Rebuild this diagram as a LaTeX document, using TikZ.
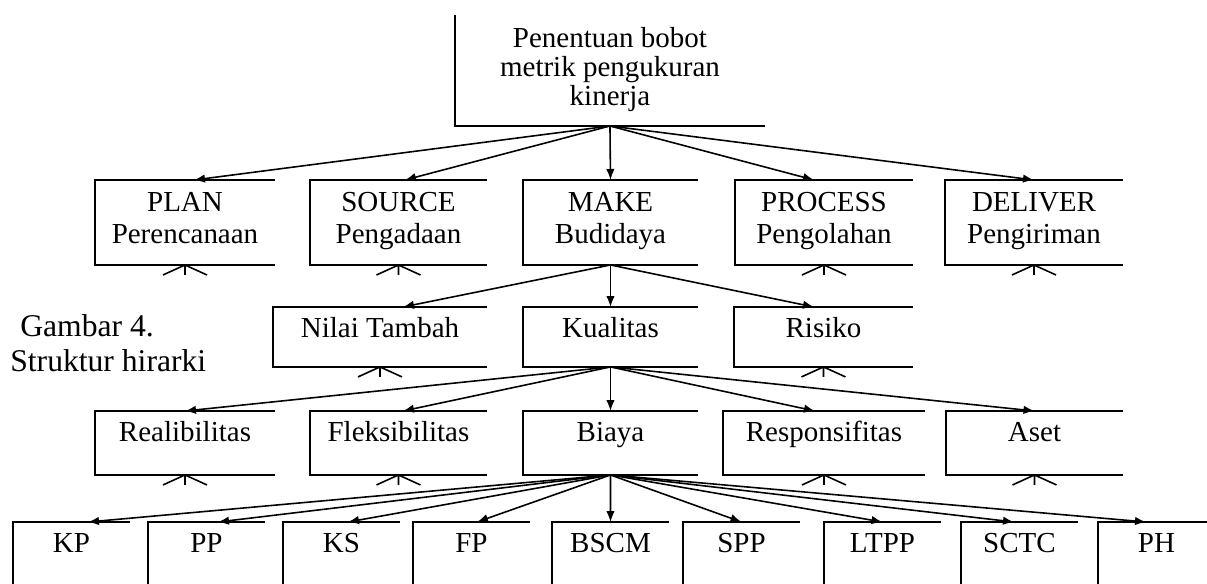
\documentclass[tikz,border=0pt]{standalone}
\usepackage{fontspec}
\setmainfont{Liberation Serif}
\usetikzlibrary{arrows.meta}

\tikzset{
  box/.style={anchor=north west, inner xsep=0pt, inner ysep=0pt, outer sep=0pt,
    align=center, font=\fontsize{16.5}{18.2}\selectfont},
  twoline/.style={minimum height=1.7cm, execute at end node=\strut},
  single/.style={text height=17.6pt, text depth=#1},
  frame/.style={line width=0.9pt},
  link/.style={line width=0.9pt, -{Latex[length=2.2mm,width=1.7mm]}},
  stub/.style={line width=0.9pt},
  caption/.style={anchor=north west, inner sep=0pt, align=left,
    font=\fontsize{18}{20}\selectfont}
}

\begin{document}
\begin{tikzpicture}[x=0.02cm, y=-0.02cm]
  \useasboundingbox (0,0) rectangle (1207,584);

  % goal
  \node[box, minimum width=6.2cm, minimum height=2.22cm, font=\fontsize{16.5}{16.5}\selectfont,
    execute at end node=\strut]
    (goal) at (455,15) {Penentuan bobot\\metrik pengukuran\\kinerja};

  % level 1
  \node[box, twoline, minimum width=3.6cm] (plan) at (95,180) {PLAN\\Perencanaan};
  \node[box, twoline, minimum width=3.54cm] (source) at (310,180) {SOURCE\\Pengadaan};
  \node[box, twoline, minimum width=3.5cm] (make) at (523,180) {MAKE\\Budidaya};
  \node[box, twoline, minimum width=3.56cm] (process) at (735,180) {PROCESS\\Pengolahan};
  \node[box, twoline, minimum width=3.56cm] (deliver) at (945,180) {DELIVER\\Pengiriman};

  % level 2
  \node[box, single=16.5pt, minimum width=4.28cm] (nilai) at (273,307) {Nilai Tambah};
  \node[box, single=16.5pt, minimum width=3.5cm] (kualitas) at (523,307) {Kualitas};
  \node[box, single=16.5pt, minimum width=3.58cm] (risiko) at (734,307) {Risiko};

  % level 3
  \node[box, single=18.8pt, minimum width=3.6cm] (reliab) at (95,411) {Realibilitas};
  \node[box, single=18.8pt, minimum width=3.54cm] (fleks) at (310,411) {Fleksibilitas};
  \node[box, single=18.8pt, minimum width=3.5cm] (biaya) at (523,411) {Biaya};
  \node[box, single=18.8pt, minimum width=4.04cm] (respons) at (723,411) {Responsifitas};
  \node[box, single=18.8pt, minimum width=3.54cm] (aset) at (946,411) {Aset};

  % level 4
  \node[box, single=10pt, minimum width=2.34cm] (kp) at (13,522) {KP};
  \node[box, single=10pt, minimum width=2.34cm] (pp) at (148,522) {PP};
  \node[box, single=10pt, minimum width=2.34cm] (ks) at (283,522) {KS};
  \node[box, single=10pt, minimum width=2.34cm] (fp) at (413,522) {FP};
  \node[box, single=10pt, minimum width=2.34cm] (bscm) at (552,522) {BSCM};
  \node[box, single=10pt, minimum width=2.34cm] (spp) at (683,522) {SPP};
  \node[box, single=10pt, minimum width=2.34cm] (ltpp) at (824,522) {LTPP};
  \node[box, single=10pt, minimum width=2.34cm] (sctc) at (961,522) {SCTC};
  \node[box, single=10pt, minimum width=2.34cm] (ph) at (1098,522) {PH};

  \node[caption] (caption) at (10,314) {\hspace*{0.2cm}Gambar 4.\\Struktur hirarki};

  % open frames
  \draw[frame] (goal.north west) -- (goal.south west) -- (goal.south east);
  \foreach \n in {plan,source,make,process,deliver,nilai,kualitas,risiko,reliab,fleks,biaya,respons,aset}
    \draw[frame] (\n.north east) -- (\n.north west) -- (\n.south west) -- (\n.south east);
  \foreach \n in {kp,pp,ks,fp,bscm,spp,ltpp,sctc,ph}
    \draw[frame] (\n.north east) -- (\n.north west) -- ++(0,70);

  % connectors
  \foreach \n/\s in {plan/0.18,source/0.13,make/0,process/-0.2,deliver/0}
    \draw[link] (goal.south) -- ([xshift=\s cm]\n.north);
  \foreach \n/\s in {nilai/0.46,kualitas/0,risiko/-0.19}
    \draw[link] (make.south) -- ([xshift=\s cm]\n.north);
  \foreach \n/\s in {reliab/0,fleks/0.09,biaya/0,respons/-0.18,aset/0}
    \draw[link] (kualitas.south) -- ([xshift=\s cm]\n.north);
  \foreach \n/\s in {kp/0.33,pp/0.23,ks/0.13,fp/0.11,bscm/0,spp/0,ltpp/0,sctc/-0.11,ph/-0.21}
    \draw[link] (biaya.south) -- ([xshift=\s cm]\n.north);

  % stubs under the leaves
  \foreach \n in {plan,source,process,deliver,nilai,risiko,reliab,fleks,respons,aset}
    \draw[stub] (\n.south) ++(-22,10) -- (\n.south) -- ++(22,10) (\n.south) -- ++(0,10);
\end{tikzpicture}
\end{document}
